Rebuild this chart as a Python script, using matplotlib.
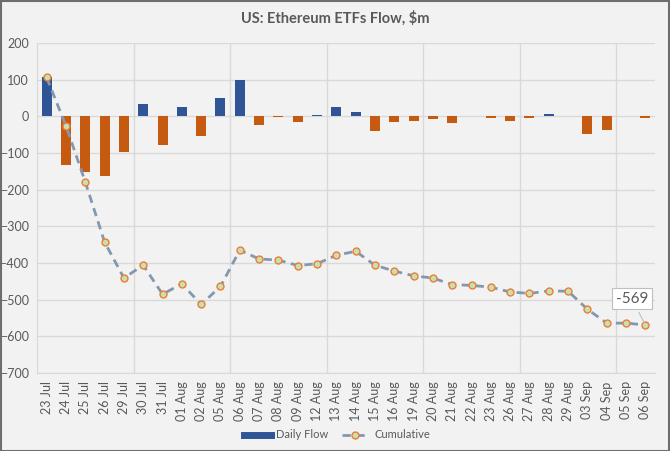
import numpy as np
import matplotlib.pyplot as plt
from matplotlib.lines import Line2D
from matplotlib.patches import Rectangle

plt.rcParams['font.family'] = ['Lato', 'DejaVu Sans']

# data
dates = ['23 Jul', '24 Jul', '25 Jul', '26 Jul', '29 Jul', '30 Jul', '31 Jul', '01 Aug',
         '02 Aug', '05 Aug', '06 Aug', '07 Aug', '08 Aug', '09 Aug', '12 Aug', '13 Aug',
         '14 Aug', '15 Aug', '16 Aug', '19 Aug', '20 Aug', '21 Aug', '22 Aug', '23 Aug',
         '26 Aug', '27 Aug', '28 Aug', '29 Aug', '03 Sep', '04 Sep', '05 Sep', '06 Sep']
daily = [106.6, -133.3, -152.3, -162.7, -98.3, 33.7, -77.2, 26.7,
         -54.3, 48.8, 98.4, -23.7, -2.9, -15.7, 4.9, 24.3,
         10.8, -39.2, -14.2, -13.5, -6.5, -16.9, 0.0, -5.7,
         -13.2, -3.5, 5.9, 0.0, -47.4, -37.5, 0.0, -5.2]
cumulative = [106, -26, -179, -343, -441, -406, -485, -457,
              -513, -464, -365, -389, -392, -407, -402, -379,
              -368, -406, -422, -435, -441, -459, -461, -466,
              -479, -483, -476, -477, -526, -564, -564, -569]

txt = '#595959'
grid = '#d9d9d9'
bg = '#f2f2f2'

fig = plt.figure(figsize=(6.7, 4.51), dpi=100)
fig.patch.set_facecolor(bg)
fig.patches.append(Rectangle((0.001, 0.001), 0.997, 0.996, transform=fig.transFigure,
                             fill=False, edgecolor='#6e6e6e', lw=1.5))

ax = fig.add_axes([37 / 670, 1 - 373 / 451, 618 / 670, 330 / 451])
ax.set_facecolor(bg)

x = np.arange(len(dates))
cols = ['#2f5597' if v >= 0 else '#c55a11' for v in daily]
ax.bar(x, daily, width=0.52, color=cols, zorder=2)
ax.plot(x, cumulative, color='#8497b0', lw=2, linestyle=(0, (3, 2)),
        marker='o', ms=5, mfc='#c5e0b4', mec='#ed7d31', mew=1, zorder=3)

ax.set_xlim(-0.5, len(dates) - 0.5)
ax.set_ylim(-700, 200)
ax.set_yticks(range(-700, 201, 100))
ax.set_xticks(x)
ax.set_xticklabels(dates, rotation=90, fontsize=9, color=txt)
ax.tick_params(axis='y', labelsize=9, labelcolor=txt, length=0, pad=6)
ax.tick_params(axis='x', length=0, pad=6)
ax.grid(axis='y', color=grid, lw=1, zorder=0)
for b in np.arange(4.5, len(dates), 5):
    ax.axvline(b, color=grid, lw=1, zorder=0)
for s in ['top', 'right']:
    ax.spines[s].set_visible(False)
ax.spines['left'].set_color(grid)
ax.spines['bottom'].set_color(grid)

ax.annotate('-569', xy=(31, cumulative[-1]), xytext=(30.3, -497),
            ha='center', va='center', fontsize=11, color=txt,
            bbox=dict(boxstyle='square,pad=0.25', fc='white', ec='#bfbfbf', lw=0.8),
            arrowprops=dict(arrowstyle='-', color='#bfbfbf', lw=0.8), zorder=5)

fig.text(0.5, 1 - 18 / 451, 'US: Ethereum ETFs Flow, \\$m', ha='center', va='center',
         fontsize=10.5, fontweight='bold', color=txt)

handles = [Line2D([], [], color='#2f5597', lw=5),
           Line2D([], [], color='#8497b0', lw=2, linestyle=(0, (3, 2)), marker='o',
                  ms=5, mfc='#c5e0b4', mec='#ed7d31', mew=1)]
fig.legend(handles, ['Daily Flow', 'Cumulative'], loc='center', ncol=2,
           bbox_to_anchor=(337 / 670, 1 - 435 / 451), frameon=False, fontsize=8,
           labelcolor=txt, handlelength=2.4, handletextpad=0.5, columnspacing=1.2)

fig.savefig('out.png', dpi=100, facecolor=bg)
